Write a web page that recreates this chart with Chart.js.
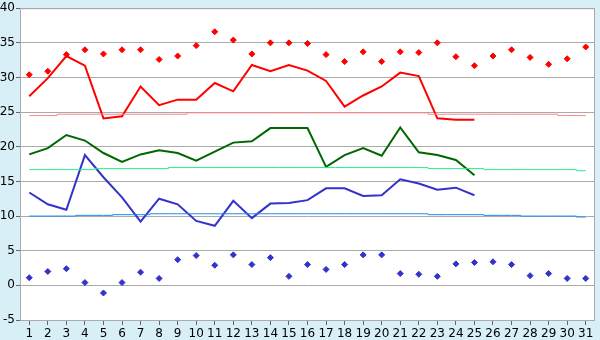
<!DOCTYPE html>
<html lang="en">
<head>
    <meta charset="UTF-8">
    <title>Temperatures</title>
    <script src="https://cdn.jsdelivr.net/npm/chart.js"></script>
    <style>
        * { margin: 0; padding: 0; box-sizing: border-box; }
        body { background-color: #d9eff7; }
        .wrap { width: 600px; height: 340px; }
    </style>
</head>
<body>
    <div class="wrap"><canvas id="tempChart"></canvas></div>

    <script>
        // Days of the month
        const days = ['1','2','3','4','5','6','7','8','9','10','11','12','13','14','15','16',
                      '17','18','19','20','21','22','23','24','25','26','27','28','29','30','31'];

        // Daily max / mean / min (days 1-25)
        const maxTemp = [27.3, 29.9, 33.1, 31.7, 24.1, 24.4, 28.7, 26.0, 26.8, 26.8, 29.2, 28.0, 31.8,
                         30.9, 31.8, 31.0, 29.5, 25.8, 27.4, 28.7, 30.7, 30.2, 24.1, 23.9, 23.9];
        const meanTemp = [18.9, 19.8, 21.7, 20.9, 19.1, 17.8, 18.9, 19.5, 19.1, 18.0, 19.3, 20.6, 20.8,
                          22.7, 22.7, 22.7, 17.1, 18.8, 19.8, 18.7, 22.8, 19.2, 18.8, 18.1, 15.9];
        const minTemp = [13.4, 11.7, 10.9, 18.8, 15.6, 12.7, 9.2, 12.5, 11.7, 9.3, 8.6, 12.2, 9.7,
                         11.8, 11.9, 12.3, 14.0, 14.0, 12.9, 13.0, 15.3, 14.7, 13.8, 14.1, 13.0];

        // Long-term averages
        const avgMax = [24.5, 24.5, 24.7, 24.7, 24.7, 24.7, 24.7, 24.7, 24.7, 24.9, 24.9, 24.9, 24.9, 24.9,
                        24.9, 24.9, 24.9, 24.9, 24.9, 24.9, 24.9, 24.9, 24.7, 24.7, 24.7, 24.7, 24.7,
                        24.7, 24.7, 24.5, 24.5];
        const avgMean = [16.7, 16.7, 16.7, 16.7, 16.85, 16.85, 16.85, 16.85, 17.0, 17.0, 17.0, 17.0, 17.0,
                         17.0, 17.0, 17.0, 17.0, 17.0, 17.0, 17.0, 17.0, 17.0, 16.85, 16.85, 16.85, 16.7,
                         16.7, 16.7, 16.7, 16.7, 16.55];
        const avgMin = [10.0, 10.0, 10.0, 10.1, 10.1, 10.2, 10.2, 10.33, 10.33, 10.33, 10.33, 10.33, 10.33,
                        10.33, 10.33, 10.33, 10.33, 10.33, 10.33, 10.33, 10.33, 10.33, 10.2, 10.2, 10.2,
                        10.1, 10.1, 10.0, 10.0, 10.0, 9.86];

        // Record highs / lows
        const recordHigh = [30.4, 30.9, 33.3, 34.0, 33.4, 34.0, 34.0, 32.6, 33.1, 34.6, 36.6, 35.4, 33.4,
                            35.0, 35.0, 34.9, 33.3, 32.3, 33.7, 32.3, 33.7, 33.6, 35.0, 33.0, 31.7, 33.1,
                            34.0, 32.9, 31.9, 32.7, 34.4];
        const recordLow = [1.1, 2.0, 2.4, 0.4, -1.1, 0.4, 1.9, 1.0, 3.7, 4.3, 2.9, 4.4, 3.0, 4.0, 1.3,
                           3.0, 2.3, 3.0, 4.4, 4.4, 1.7, 1.6, 1.3, 3.1, 3.3, 3.4, 3.0, 1.4, 1.7, 1.0, 1.0];

        // white plot area + grey frame
        const plotFrame = {
            id: 'plotFrame',
            beforeDraw(chart) {
                const { ctx, chartArea: a } = chart;
                ctx.save();
                ctx.fillStyle = '#ffffff';
                ctx.fillRect(a.left, a.top, a.right - a.left, a.bottom - a.top);
                ctx.restore();
            },
            afterDraw(chart) {
                const { ctx, chartArea: a } = chart;
                ctx.save();
                ctx.strokeStyle = '#aaaaaa';
                ctx.lineWidth = 1;
                ctx.strokeRect(a.left + 0.5, a.top + 0.5, a.right - a.left - 1, a.bottom - a.top);
                ctx.restore();
            }
        };

        const thin = (data, color) => ({
            data, borderColor: color, borderWidth: 1, pointRadius: 0, stepped: 'middle', fill: false
        });
        const line = (data, color) => ({
            data, borderColor: color, borderWidth: 2, pointRadius: 0, tension: 0, fill: false
        });
        const dots = (data, color) => ({
            data, showLine: false, pointStyle: 'rectRot', pointRadius: 3,
            pointBackgroundColor: color, pointBorderColor: color, pointBorderWidth: 1
        });

        const ctx = document.getElementById('tempChart').getContext('2d');
        new Chart(ctx, {
            type: 'line',
            data: {
                labels: days,
                datasets: [
                    thin(avgMax, '#ff8080'),
                    thin(avgMean, '#22ee88'),
                    thin(avgMin, '#1e88ee'),
                    line(maxTemp, '#ff0000'),
                    line(meanTemp, '#006600'),
                    line(minTemp, '#3333cc'),
                    dots(recordHigh, '#ff0000'),
                    dots(recordLow, '#3333cc')
                ]
            },
            options: {
                responsive: true,
                maintainAspectRatio: false,
                animation: false,
                layout: { padding: { top: 5, right: 5, left: 0, bottom: 0 } },
                plugins: { legend: { display: false }, tooltip: { enabled: false } },
                scales: {
                    x: {
                        offset: true,
                        grid: { offset: false, drawOnChartArea: false, drawTicks: true, tickLength: 5, color: '#666666' },
                        border: { display: false },
                        ticks: { autoSkip: false, maxRotation: 0, padding: 2, color: '#000',
                                 font: { family: 'DejaVu Sans', size: 12 } },
                        afterFit: (s) => { s.height = 20; }
                    },
                    y: {
                        min: -5, max: 40,
                        grid: { color: '#aaaaaa', tickLength: 4, tickColor: '#666666' },
                        border: { display: false },
                        ticks: { stepSize: 5, padding: 1, color: '#000',
                                 font: { family: 'DejaVu Sans', size: 12 } },
                        afterFit: (s) => { s.width = 20; }
                    }
                }
            },
            plugins: [plotFrame]
        });
    </script>
</body>
</html>
